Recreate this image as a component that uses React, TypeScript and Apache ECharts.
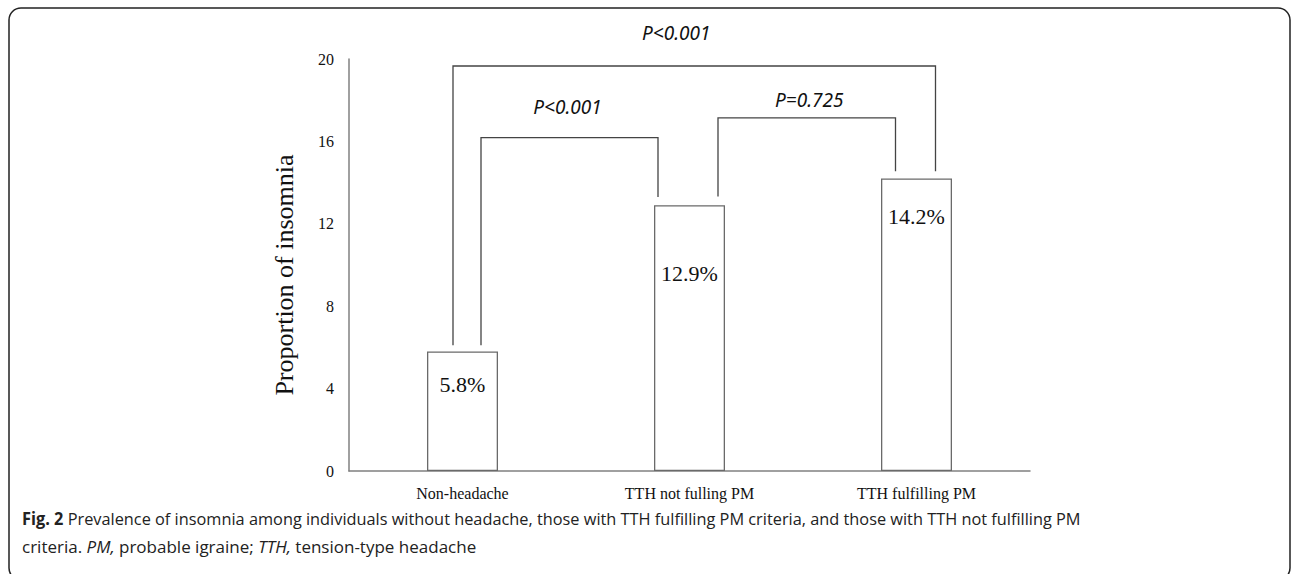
import React, { useEffect, useRef } from 'react';
import * as echarts from 'echarts';

const categories = ['Non-headache', 'TTH not fulling PM', 'TTH fulfilling PM'];
const values = [5.8, 12.9, 14.2];
const valueLabels = ['5.8%', '12.9%', '14.2%'];
const yMin = 0;
const yMax = 20;
const yInterval = 4;
const yAxisTitle = 'Proportion of insomnia';

const bracketFrom = [0, 0, 1];
const bracketTo = [2, 1, 2];
const bracketTop = [19.66, 16.18, 17.14];
const bracketFromEnd = [6.1, 6.1, 13.33];
const bracketToEnd = [14.55, 13.3, 14.55];
const bracketLabels = ['P<0.001', 'P<0.001', 'P=0.725'];

const captionLine1 = 'Prevalence of insomnia among individuals without headache, those with TTH fulfilling PM criteria, and those with TTH not fulfilling PM';
const captionLine2a = 'criteria. ';
const captionLine2b = ' probable igraine; ';
const captionLine2c = ' tension-type headache';

// style-only pixel offsets
const legDx = [[-9.5, 19], [18.5, -31.5], [28.5, -21]];
const labelShift = [[-18, -33], [-2, -31], [2.5, -17.5]];
const valueLabelDy = [22, 57, 27];

export default function App() {
  const ref = useRef<HTMLDivElement>(null);
  useEffect(() => {
    if (!ref.current) return;
    const chart = echarts.init(ref.current, null, { renderer: 'svg' });
    const serif = '"Liberation Serif", "Times New Roman", serif';
    const sans = '"Open Sans", "Noto Sans", sans-serif';
    chart.setOption({
      animation: false,
      backgroundColor: '#fff',
      grid: { left: 349, right: 262, top: 59, bottom: 103 },
      xAxis: {
        type: 'category',
        data: categories,
        axisLine: { lineStyle: { color: '#808080', width: 1.5 } },
        axisTick: { show: false },
        axisLabel: { fontFamily: serif, fontSize: 16, color: '#111', margin: 14 },
      },
      yAxis: {
        type: 'value',
        min: yMin,
        max: yMax,
        interval: yInterval,
        splitLine: { show: false },
        axisLine: { show: true, lineStyle: { color: '#808080', width: 1.5 } },
        axisTick: { show: false },
        axisLabel: { fontFamily: serif, fontSize: 16, color: '#111', margin: 15 },
      },
      graphic: [
        {
          type: 'rect',
          shape: { x: 9, y: 8, width: 1281, height: 572, r: 12 },
          style: { fill: 'none', stroke: '#222', lineWidth: 1.5 },
          silent: true,
        },
        {
          type: 'text',
          x: 284,
          y: 275,
          rotation: Math.PI / 2,
          style: {
            text: yAxisTitle,
            fontFamily: serif,
            fontSize: 26,
            fill: '#111',
            align: 'center',
            verticalAlign: 'middle',
          },
        },
        {
          type: 'text',
          x: 22,
          y: 518,
          scaleX: 0.961,
          style: {
            text: '{b|Fig. 2} {n|' + captionLine1 + '}',
            fontFamily: sans,
            fontSize: 17,
            fill: '#222',
            verticalAlign: 'middle',
            rich: {
              b: { fontFamily: sans, fontSize: 17, fontWeight: 'bold', fill: '#222' },
              n: { fontFamily: sans, fontSize: 17, fill: '#222' },
            },
          },
        },
        {
          type: 'text',
          x: 22,
          y: 546,
          style: {
            text: '{n|' + captionLine2a + '}{i|PM,}{n|' + captionLine2b + '}{i|TTH,}{n|' + captionLine2c + '}',
            fontFamily: sans,
            fontSize: 17,
            fill: '#222',
            verticalAlign: 'middle',
            rich: {
              i: { fontFamily: sans, fontSize: 17, fontStyle: 'italic', fill: '#222' },
              n: { fontFamily: sans, fontSize: 17, fill: '#222' },
            },
          },
        },
      ],
      series: [
        {
          type: 'bar',
          barWidth: 71,
          data: values.map((v, i) => ({
            value: v,
            label: {
              show: true,
              position: 'insideTop',
              distance: 0,
              offset: [0, valueLabelDy[i]],
              formatter: valueLabels[i],
              fontFamily: serif,
              fontSize: 22,
              color: '#111',
            },
          })),
          itemStyle: { color: '#fff', borderColor: '#6a6a6a', borderWidth: 1.3 },
          z: 2,
        },
        {
          type: 'custom',
          clip: false,
          z: 3,
          encode: { x: 0, y: 2 },
          data: bracketFrom.map((f, i) => [f, bracketTo[i], bracketTop[i], bracketFromEnd[i], bracketToEnd[i]]),
          renderItem: (params: any, api: any) => {
            const i = params.dataIndex;
            const f = api.value(0);
            const t = api.value(1);
            const top = api.value(2);
            const fe = api.value(3);
            const te = api.value(4);
            const pA = api.coord([f, fe]);
            const pAt = api.coord([f, top]);
            const pB = api.coord([t, te]);
            const x1 = pA[0] + legDx[i][0];
            const x2 = pB[0] + legDx[i][1];
            return {
              type: 'group',
              children: [
                {
                  type: 'polyline',
                  shape: { points: [[x1, pA[1]], [x1, pAt[1]], [x2, pAt[1]], [x2, pB[1]]] },
                  style: { stroke: '#444', lineWidth: 1.3, fill: null },
                },
                {
                  type: 'text',
                  x: (x1 + x2) / 2 + labelShift[i][0],
                  y: pAt[1] + labelShift[i][1],
                  style: {
                    text: bracketLabels[i],
                    font: 'italic 19px "Noto Sans"',
                    fill: '#111',
                    align: 'center',
                    verticalAlign: 'middle',
                  },
                },
              ],
            };
          },
        },
      ],
    });
    return () => chart.dispose();
  }, []);
  return <div ref={ref} style={{ position: 'absolute', left: 0, top: 0, width: 1292, height: 574 }} />;
}
